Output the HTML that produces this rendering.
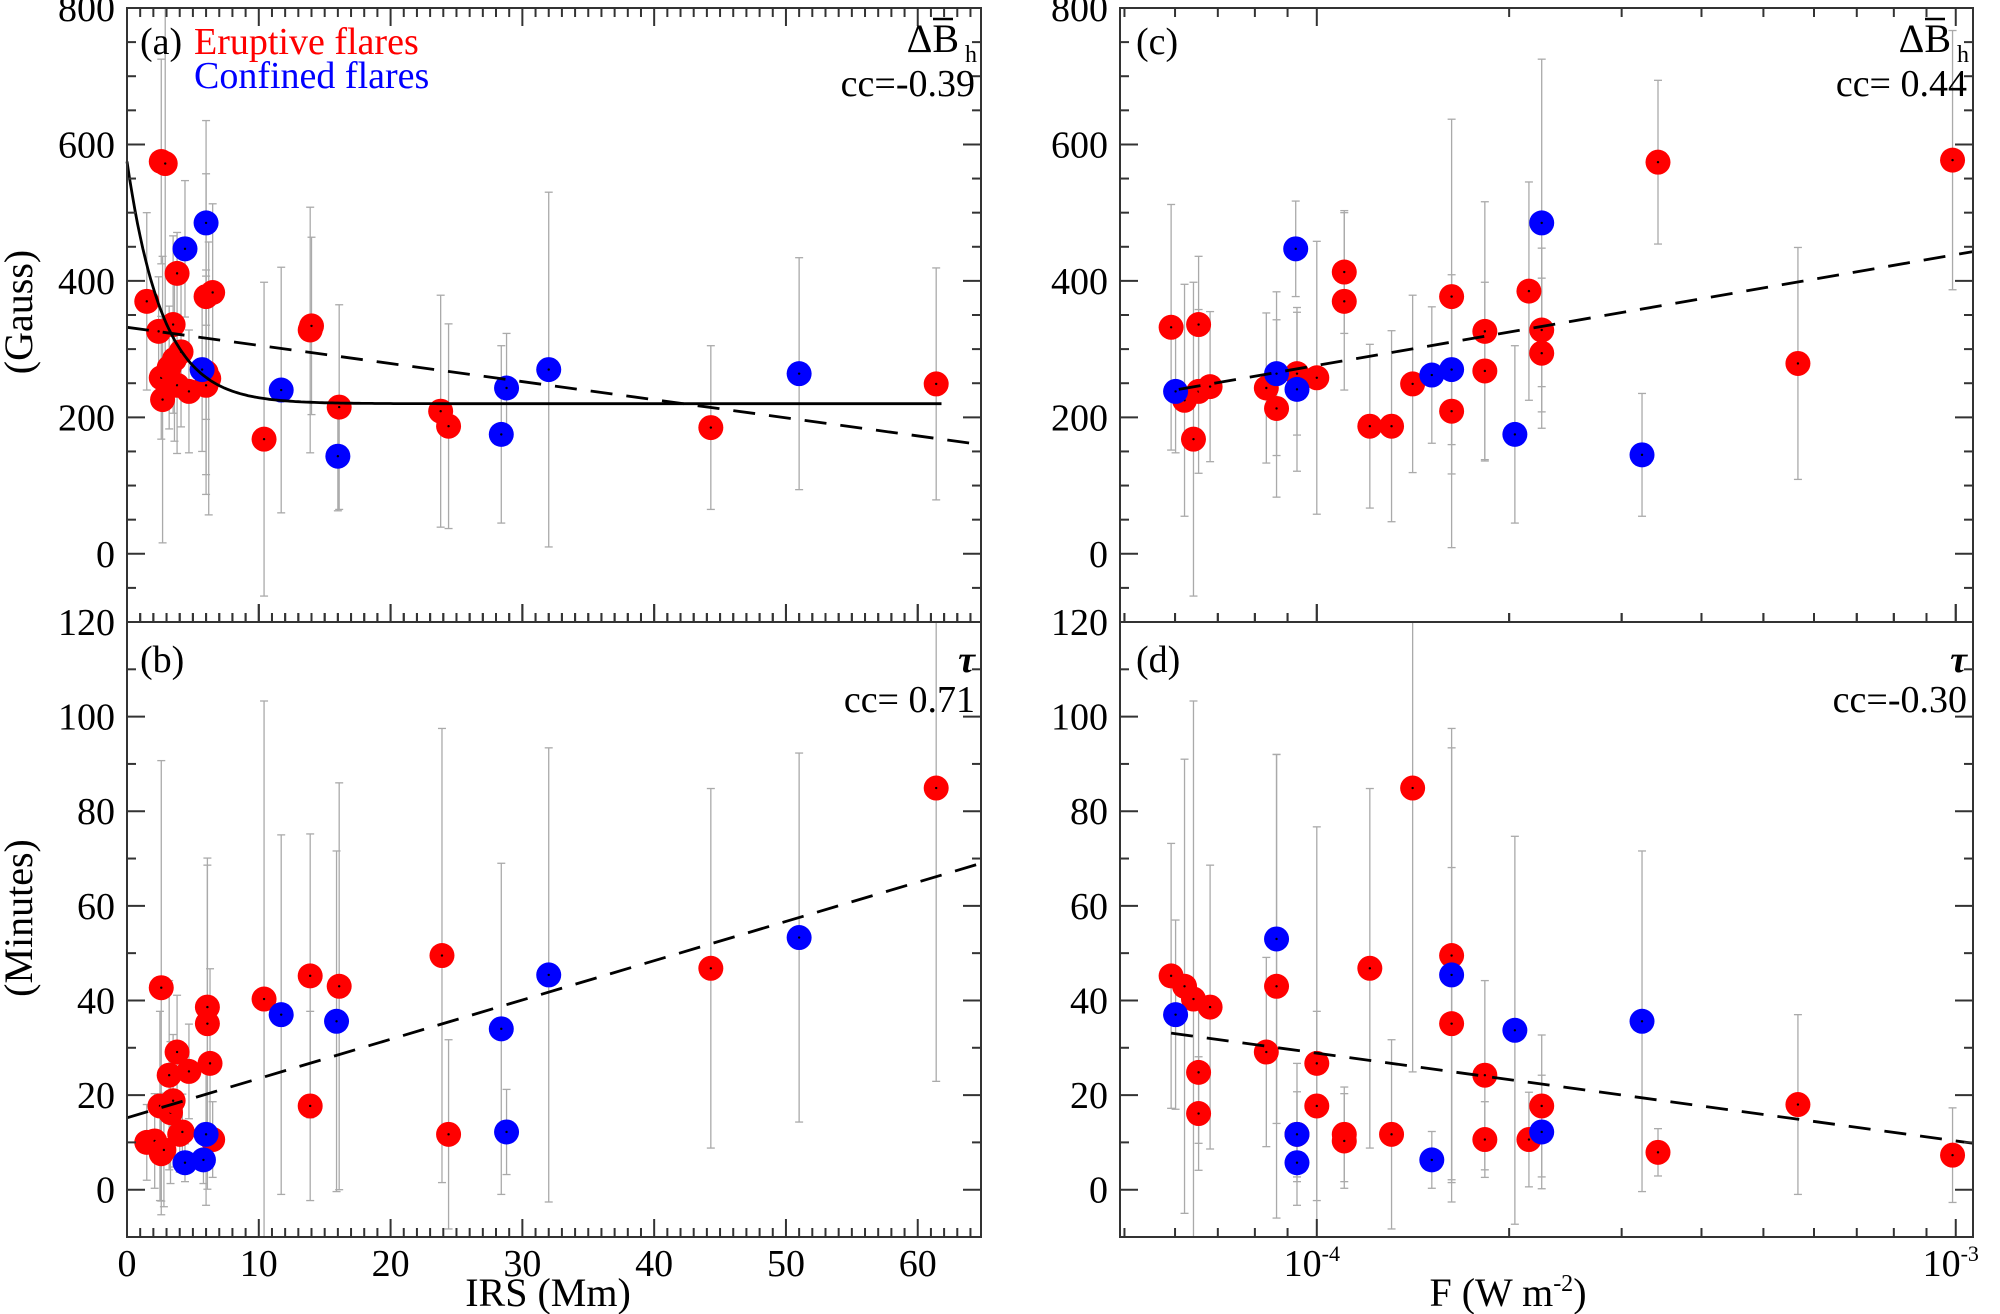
<!DOCTYPE html>
<html><head><meta charset="utf-8"><style>
html,body{margin:0;padding:0;background:#fff;}
svg{display:block;font-family:"Liberation Serif",serif;}
</style></head><body>
<svg id="chart" width="2000" height="1314" viewBox="0 0 2000 1314" xmlns="http://www.w3.org/2000/svg"></svg>
<script>
// ---------- DATA ----------
const aRedX = [1.5,2.6,2.9,2.4,2.6,2.7,3.2,3.5,3.8,3.6,4.1,3.8,4.7,6.0,6.5,6.0,6.2,6.0,10.4,13.9,14.0,16.1,23.8,24.4,44.3,61.4];
const aRedY = [370,575,572,326,258,226,273,336,411,285,296,247,238,377,383,266,257,247,168,328,334,215,209,187,185,249];
const aRedErr = [130,150,300,80,90,210,90,130,60,120,110,100,90,180,130,150,200,160,230,180,130,150,170,150,120,170];
const aBlueX = [4.4,6.0,5.7,11.7,16.0,28.4,28.8,32.0,51.0];
const aBlueY = [447,485,270,240,143,175,243,270,264];
const aBlueErr = [100,150,120,180,80,130,80,260,170];
const bRedX = [1.5,2.1,2.6,2.5,2.6,2.8,3.2,3.3,3.5,3.8,4.0,4.2,4.7,6.1,6.1,6.3,6.5,10.4,13.9,13.9,16.1,23.9,24.4,44.3,61.4];
const bRedY = [10,10.3,42.7,17.7,7.6,8.4,24.2,16.3,18.8,29.1,11.7,12.2,25.0,38.6,35.1,26.7,10.6,40.3,45.2,17.7,43,49.5,11.7,46.8,84.9];
const bRedErr = [8,10,48,20,10,12,20,15,14,12,8,8,10,30,35,20,8,63,30,20,43,48,20,38,62];
const bBlueX = [4.4,5.8,6.0,11.7,15.9,28.4,28.8,32.0,51.0];
const bBlueY = [5.7,6.3,11.7,37,35.6,34,12.2,45.4,53.3];
const bBlueErr = [4,5,15,38,36,35,9,48,39];
const cRedX = [-4.228,-4.207,-4.193,-4.185,-4.185,-4.167,-4.079,-4.063,-4.031,-4.0,-3.957,-3.957,-3.917,-3.883,-3.850,-3.789,-3.789,-3.737,-3.737,-3.668,-3.648,-3.648,-3.466,-3.247,-3.005];
const cRedY = [332,225,168,336,238,245,243,213,264,258,413,370,187,187,249,377,209,326,268,385,328,294,574,279,577];
const cRedErr = [180,170,230,100,120,110,110,130,90,200,90,130,120,140,130,260,200,190,130,160,120,110,120,170,190];
const cBlueX = [-4.221,-4.063,-4.033,-4.031,-3.82,-3.789,-3.69,-3.648,-3.491];
const cBlueY = [238,264,447,241,262,270,175,485,145];
const cBlueErr = [90,120,70,120,100,110,130,240,90];
const dRedX = [-4.228,-4.207,-4.193,-4.185,-4.185,-4.167,-4.079,-4.063,-4.031,-4.0,-4.0,-3.957,-3.957,-3.883,-3.917,-3.850,-3.789,-3.789,-3.737,-3.737,-3.668,-3.648,-3.466,-3.247,-3.005];
const dRedY = [45.2,43,40.3,24.8,16.1,38.6,29.1,43,11.7,26.7,17.7,11.7,10.3,11.7,46.8,84.9,49.5,35.1,24.2,10.6,10.6,17.7,7.9,18.0,7.3];
const dRedErr = [28,48,63,15,12,30,20,49,15,50,20,10,10,20,38,60,48,33,20,8,10,15,5,19,10];
const dBlueX = [-4.221,-4.063,-4.031,-4.031,-3.82,-3.789,-3.69,-3.648,-3.491];
const dBlueY = [37,53,11.7,5.7,6.3,45.4,33.7,12.2,35.6];
const dBlueErr = [20,39,9,4,6,48,41,12,36];
const aLinear = [332,160];
const aExp = [575,220,2.7];
const bLinear = [15.2,69];
const cLinear = [241,443];
const dLinear = [33.1,9.8];
const ccValues = ['cc=-0.39','cc= 0.71','cc= 0.44','cc=-0.30'];
const xTicksLin = [0,10,20,30,40,50,60];
const yTicksB = [0,200,400,600,800];
const yTicksT = [0,20,40,60,80,100,120];

// ---------- GEOMETRY ----------
const svg = document.getElementById('chart');
const NS = 'http://www.w3.org/2000/svg';
function mk(tag, attrs, parent){const e=document.createElementNS(NS,tag);for(const k in attrs)e.setAttribute(k,attrs[k]);(parent||svg).appendChild(e);return e;}
function scale(d0,d1,p0,p1){return v=>p0+(v-d0)/(d1-d0)*(p1-p0);}
const L={x0:127,x1:981}, R={x0:1120,x1:1973}, T={y0:8,y1:622}, B={y0:622,y1:1237};
const xLin = scale(0,64.8,L.x0,L.x1);
const xLog = scale(-4.308,-2.973,R.x0,R.x1);
const yB = scale(-100,800,T.y1,T.y0);
const yT = scale(-10,120,B.y1,B.y0);

function drawPanel(name, xs, ys, px, py, rX, rY, rE, bX, bY, bE){
  const g = mk('g',{});
  
  
  const eg = mk('g',{stroke:'#aaa','stroke-width':1.3,fill:'none'},g);
  function errs(X,Y,E){for(let i=0;i<X.length;i++){const x=xs(X[i]);const y1=ys(Y[i]-E[i]),y2=ys(Y[i]+E[i]);
    mk('line',{x1:x,x2:x,y1:Math.max(Math.min(y1,py[1]),py[0]),y2:Math.max(Math.min(y2,py[1]),py[0])},eg);
    if(y1<py[1]) mk('line',{x1:x-4,x2:x+4,y1:y1,y2:y1},eg);
    if(y2>py[0]) mk('line',{x1:x-4,x2:x+4,y1:y2,y2:y2},eg);}}
  errs(rX,rY,rE); errs(bX,bY,bE);
  function dots(X,Y,c,label){for(let i=0;i<X.length;i++){const el=mk('circle',{cx:xs(X[i]),cy:ys(Y[i]),r:12.5,fill:c},g);
    
    
    mk('circle',{cx:xs(X[i]),cy:ys(Y[i]),r:1.2,fill:'#000'},g);}}
  dots(rX,rY,'#f00','eruptive-point');
  dots(bX,bY,'#00f','confined-point');
  return g;
}
function clipLine(g, pts, dash){
  const d = pts.map((p,i)=>(i?'L':'M')+p[0].toFixed(1)+','+p[1].toFixed(1)).join(' ');
  const a = {d:d,stroke:'#000','stroke-width':2.8,fill:'none'}; if(dash)a['stroke-dasharray']='22,14';
  return mk('path',a,g);
}

const pa = drawPanel('panel-a',xLin,yB,[L.x0,L.x1],[T.y0,T.y1],aRedX,aRedY,aRedErr,aBlueX,aBlueY,aBlueErr);
let fl = clipLine(pa,[[xLin(0),yB(aLinear[0])],[xLin(64.8),yB(aLinear[1])]],true);
 
const ep=[]; for(let x=0;x<=62;x+=0.2){let v=aExp[1]+(aExp[0]-aExp[1])*Math.exp(-x/aExp[2]);ep.push([xLin(x),yB(v)]);}
fl = clipLine(pa,ep,false);  

const pb = drawPanel('panel-b',xLin,yT,[L.x0,L.x1],[B.y0,B.y1],bRedX,bRedY,bRedErr,bBlueX,bBlueY,bBlueErr);
fl = clipLine(pb,[[xLin(0),yT(bLinear[0])],[xLin(64.8),yT(bLinear[1])]],true);
 

const pc = drawPanel('panel-c',xLog,yB,[R.x0,R.x1],[T.y0,T.y1],cRedX,cRedY,cRedErr,cBlueX,cBlueY,cBlueErr);
fl = clipLine(pc,[[xLog(-4.216),yB(cLinear[0])],[xLog(-2.973),yB(cLinear[1])]],true);
 

const pd = drawPanel('panel-d',xLog,yT,[R.x0,R.x1],[B.y0,B.y1],dRedX,dRedY,dRedErr,dBlueX,dBlueY,dBlueErr);
fl = clipLine(pd,[[xLog(-4.228),yT(dLinear[0])],[xLog(-2.973),yT(dLinear[1])]],true);
 

const ax = mk('g',{stroke:'#333','stroke-width':2,fill:'none'});


[[L,T],[L,B],[R,T],[R,B]].forEach(([h,v])=>mk('rect',{x:h.x0,y:v.y0,width:h.x1-h.x0,height:v.y1-v.y0},ax));
function tk(x1,y1,x2,y2){mk('line',{x1,y1,x2,y2},ax);}
function yticks(h,v,ys,lo,hi,minor,major){
  for(let val=lo;val<=hi+1e-9;val+=minor){const y=ys(val);if(y<v.y0-0.5||y>v.y1+0.5)continue;
    const len=(Math.abs(val/major-Math.round(val/major))<1e-6)?18:9;
    tk(h.x0,y,h.x0+len,y); tk(h.x1,y,h.x1-len,y);}
}
yticks(L,T,yB,-100,800,50,200); yticks(R,T,yB,-100,800,50,200);
yticks(L,B,yT,-10,120,10,20); yticks(R,B,yT,-10,120,10,20);
for(let v=0;v<=64;v++){const x=xLin(v);const len=v%10===0?18:9;
  tk(x,B.y1,x,B.y1-len); tk(x,T.y0,x,T.y0+len); tk(x,B.y0,x,B.y0-len); tk(x,T.y1,x,T.y1-len);}
for(let e=-5;e<=-3;e++){for(let m=1;m<=9;m++){const lv=e+Math.log10(m);if(lv<-4.308||lv>-2.973)continue;const x=xLog(lv);const len=m===1?18:9;
  tk(x,B.y1,x,B.y1-len); tk(x,T.y0,x,T.y0+len); tk(x,B.y0,x,B.y0-len); tk(x,T.y1,x,T.y1-len);}}

const tg = mk('g',{fill:'#000','font-size':38});


function txt(s,x,y,attrs,name){const t=mk('text',Object.assign({x,y},attrs||{}),tg);t.textContent=s;return t;}
yTicksB.forEach(v=>{txt(String(v),L.x0-12,yB(v)+13,{'text-anchor':'end'},'y-tick-label');txt(String(v),R.x0-12,yB(v)+13,{'text-anchor':'end'},'y-tick-label');});
yTicksT.forEach(v=>{txt(String(v),L.x0-12,yT(v)+13,{'text-anchor':'end'},'y-tick-label');txt(String(v),R.x0-12,yT(v)+13,{'text-anchor':'end'},'y-tick-label');});
xTicksLin.forEach(v=>txt(String(v),xLin(v),1276,{'text-anchor':'middle'},'x-tick-label'));
[['-4',-4],['-3',-3]].forEach(([s,v])=>{const t=txt('10',xLog(v)-5,1276,{'text-anchor':'middle'},'x-tick-label');const ts=mk('tspan',{dy:-15,'font-size':22},t);ts.textContent=s;});
txt('IRS (Mm)',548,1306,{'text-anchor':'middle','font-size':40},'x-axis-title-irs');
const fx=txt('F (W m',1508,1306,{'text-anchor':'middle','font-size':40},'x-axis-title-flux');
const fs=mk('tspan',{dy:-15,'font-size':24},fx);fs.textContent='-2';const fs2=mk('tspan',{dy:15},fx);fs2.textContent=')';
txt('(Gauss)',0,0,{'text-anchor':'middle','font-size':40,transform:'translate(32,312) rotate(-90)'},'y-axis-title-gauss');
txt('(Minutes)',0,0,{'text-anchor':'middle','font-size':40,transform:'translate(32,918) rotate(-90)'},'y-axis-title-minutes');
txt('(a)',140,54,{},'panel-label-a');
txt('Eruptive flares',194,54,{fill:'#f00'},'legend-eruptive');
txt('Confined flares',194,88,{fill:'#00f'},'legend-confined');
txt('(b)',140,672,{},'panel-label-b');
txt('(c)',1136,54,{},'panel-label-c');
txt('(d)',1136,672,{},'panel-label-d');
[L.x1,R.x1].forEach(x=>{
  txt('\u0394B',x-22,52,{'text-anchor':'end','font-size':40},'quantity-delta-bh');
  mk('line',{x1:x-48,x2:x-28,y1:19,y2:19,stroke:'#000','stroke-width':2.5},tg);
  txt('h',x-4,62,{'text-anchor':'end','font-size':24},'subscript-h');
});
txt('\u03C4',L.x1-6,672,{'text-anchor':'end','font-style':'italic','font-weight':'bold'},'quantity-tau');
txt('\u03C4',R.x1-6,672,{'text-anchor':'end','font-style':'italic','font-weight':'bold'},'quantity-tau');
txt(ccValues[0],L.x1-6,96,{'text-anchor':'end'},'cc-a');
txt(ccValues[1],L.x1-6,712,{'text-anchor':'end'},'cc-b');
txt(ccValues[2],R.x1-6,96,{'text-anchor':'end'},'cc-c');
txt(ccValues[3],R.x1-6,712,{'text-anchor':'end'},'cc-d');
</script>
</body></html>
